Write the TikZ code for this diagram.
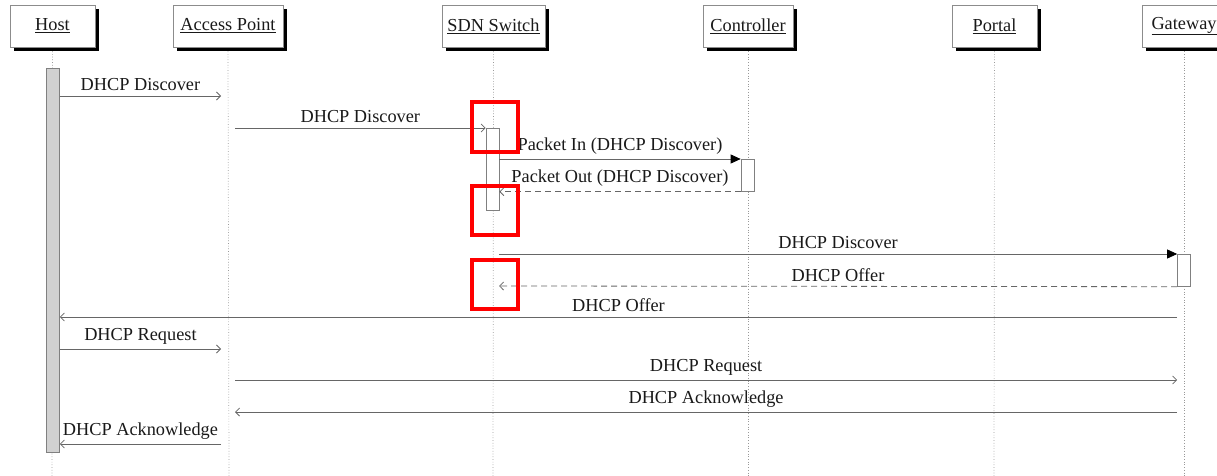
\documentclass[tikz,border=0pt]{standalone}
\usepackage{fontspec}
\setmainfont{Liberation Serif}
\usetikzlibrary{shadows,arrows.meta}
\begin{document}
\begin{tikzpicture}[x=1pt,y=-1pt,
  every node/.style={font=\fontsize{18.3}{21}\selectfont, text=black!90},
  head/.style={draw=black!45, fill=white, line width=0.7pt, minimum height=42pt, inner sep=0pt,
    drop shadow={shadow xshift=4pt, shadow yshift=-4pt, fill=black, opacity=1}},
  life/.style={draw=black!40, dotted, line width=0.7pt},
  msg/.style={draw=black!60, line width=0.8pt, -{Straight Barb[length=4pt,width=8pt]}},
  call/.style={draw=black!60, line width=0.8pt, -{Triangle[length=10pt,width=9pt,black]}},
  reply/.style={msg, dash pattern=on 6pt off 4pt},
  bar/.style={draw=black!50, line width=0.7pt, fill=white, minimum width=13pt, inner sep=0pt, anchor=north},
  lbl/.style={above, inner sep=2pt, yshift=2.5pt},
  hilite/.style={draw=red, line width=4pt, inner sep=0pt, minimum width=46pt, minimum height=49pt},
]
\useasboundingbox (0,0) rectangle (1217,476);

% lifeline heads
\node[head, minimum width=85pt]  (host) at (52.5,26)  {\underline{Host}};
\node[head, minimum width=110pt] (ap)   at (228,26)   {\underline{Access Point}};
\node[head, minimum width=103pt] (sw)   at (493.5,26) {\underline{SDN Switch}};
\node[head, minimum width=90pt]  (ctl)  at (748,26)   {\underline{Controller}};
\node[head, minimum width=85pt]  (por)  at (994.5,26) {\underline{Portal}};
\node[head, minimum width=84pt]  (gw)   at (1184,26)  {\underline{Gateway}};

% lifelines
\foreach \n/\x in {host/52,ap/229,sw/493,ctl/748,por/994,gw/1184}{
  \coordinate (\n end) at (\x,476);
  \draw[life] (\n.south) ++(0,4) -- (\n end);
}

% activation bars
\node[bar, fill=black!18, minimum height=384pt] (hostbar) at (53,68) {};
\node[bar, minimum height=82pt] (swbar)  at (492.5,128) {};
\node[bar, minimum height=32pt] (ctlbar) at (747.5,159) {};
\node[bar, minimum height=32pt] (gwbar)  at (1184,254) {};

% message end points
\coordinate (ap1)  at (221,96);
\coordinate (ap2)  at (235,128);
\coordinate (sw7)  at (499,254);
\coordinate (sw9)  at (499,286);
\coordinate (ap11) at (221,349);
\coordinate (ap12) at (235,380);
\coordinate (ap13) at (235,412);
\coordinate (ap14) at (221,444);

% messages
\draw[msg] (hostbar.east |- ap1) -- node[lbl] {DHCP Discover} (ap1);
\draw[msg] (ap2) -- node[lbl] {DHCP Discover} (swbar.north west);
\draw[call] (swbar.east |- ctlbar.north) -- node[lbl] {Packet In (DHCP Discover)} (ctlbar.north west);
\draw[reply] (ctlbar.south west) -- node[lbl] {Packet Out (DHCP Discover)} (swbar.east |- ctlbar.south);
\draw[call] (sw7) -- node[lbl] {DHCP Discover} (gwbar.north west);
\draw[reply] (gwbar.south west) -- node[lbl] {DHCP Offer} (sw9);
\draw[msg] (gwbar.west |- 0,317) -- node[lbl] {DHCP Offer} (hostbar.east |- 0,317);
\draw[msg] (hostbar.east |- ap11) -- node[lbl] {DHCP Request} (ap11);
\draw[msg] (ap12) -- node[lbl] {DHCP Request} (gwbar.west |- ap12);
\draw[msg] (gwbar.west |- ap13) -- node[lbl] {DHCP Acknowledge} (ap13);
\draw[msg] (ap14) -- node[lbl] {DHCP Acknowledge} (hostbar.east |- ap14);

% highlight frames
\node[hilite] (hl1) at (495,127) {};
\node[hilite] (hl2) at (495,210.5) {};
\node[hilite] (hl3) at (495,284) {};
\end{tikzpicture}
\end{document}
